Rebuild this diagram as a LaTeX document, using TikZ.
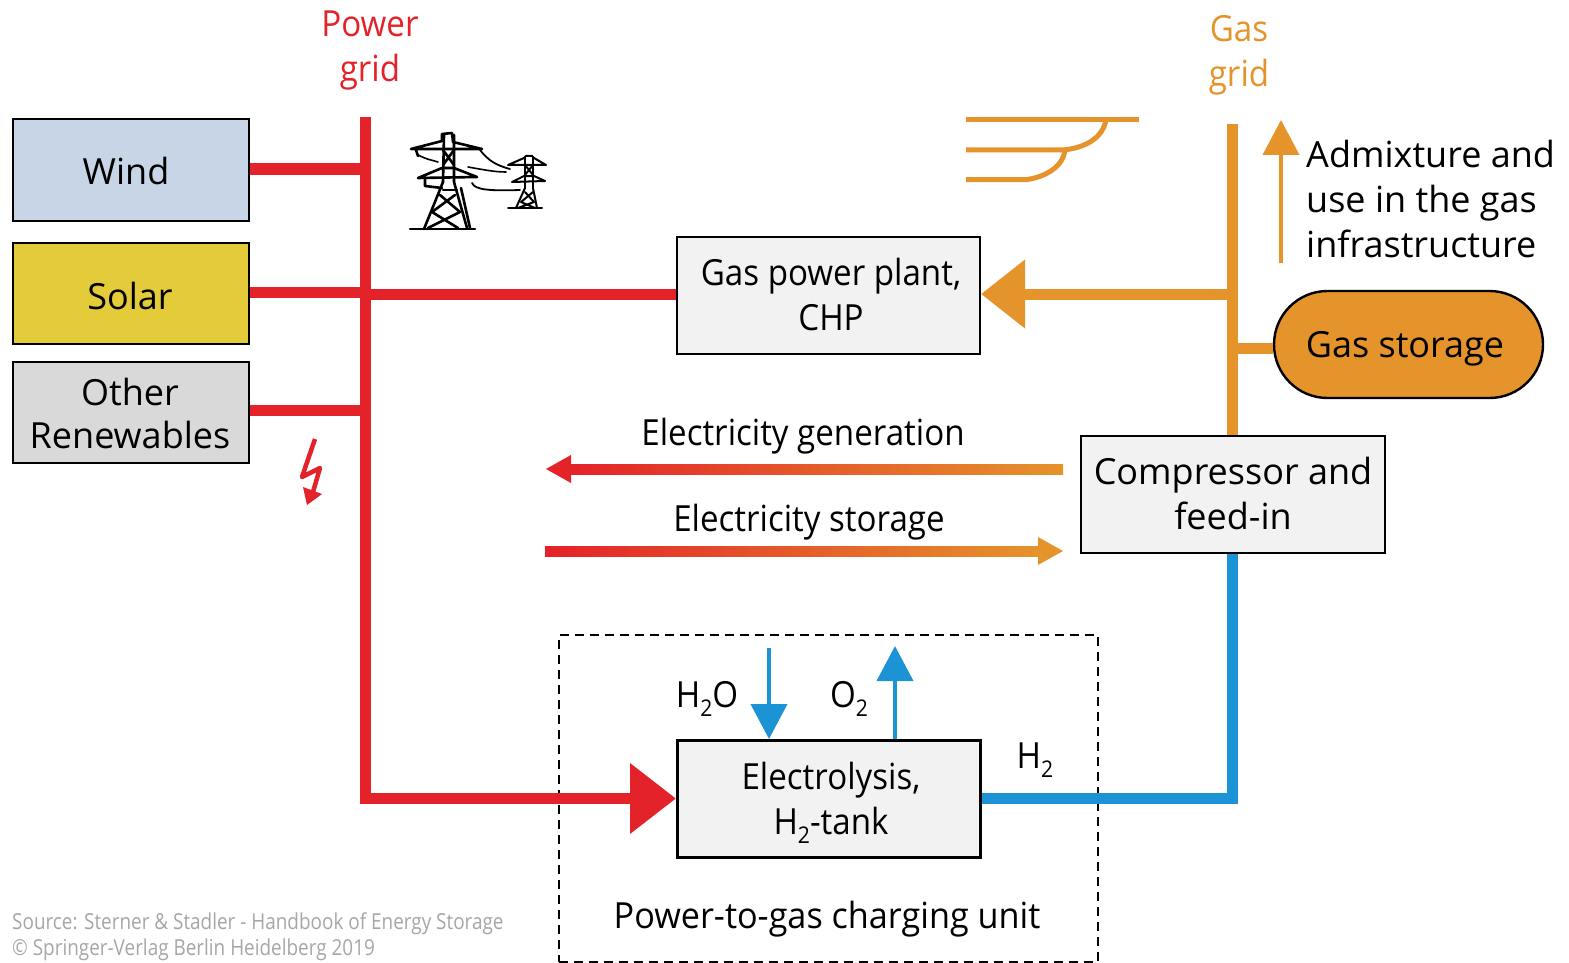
\documentclass[tikz,border=0pt]{standalone}
\usepackage{fontspec}
\setmainfont{Open Sans}
\newfontfamily\narrowf[FakeStretch=0.92]{Open Sans}
\newfontfamily\slimf[FakeStretch=0.86]{Open Sans}
\usetikzlibrary{arrows.meta,calc,shapes.misc}
\definecolor{gred}{HTML}{E42229}
\definecolor{gorange}{HTML}{E5932B}
\definecolor{gblue}{HTML}{1B93D5}
\definecolor{boxgrey}{HTML}{F2F2F2}
\definecolor{srcgrey}{HTML}{A6A6A6}
\definecolor{windc}{RGB}{200,213,230}
\definecolor{solarc}{RGB}{227,203,58}
\definecolor{otherc}{RGB}{217,217,217}
\newcommand{\lowtwo}{\raisebox{-9pt}{\fontsize{23}{23}\selectfont 2}}
\tikzset{
 box/.style={draw=black,line width=2pt,rectangle,inner sep=0pt,anchor=north west,fill=boxgrey},
 lab/.style={inner sep=0pt,align=center,font=\fontsize{36}{45}\selectfont},
 nlab/.style={inner sep=0pt,align=center,font=\narrowf\fontsize{36}{45}\selectfont},
 bus/.style={line width=11pt},
 tower/.style={line width=2.6pt,black,line cap=round,line join=round},
 thintower/.style={line width=2pt,black,line cap=round,line join=round},
 thin arrow/.style={line width=4pt},
 bighead/.style={-{Triangle[length=46pt,width=68pt]}},
 orangehead/.style={-{Triangle[length=44pt,width=66pt]}},
 smallhead/.style={-{Triangle[length=35pt,width=36pt]}},
}
\begin{document}
\begin{tikzpicture}[x=1pt,y=-1pt]
\useasboundingbox (0,0) rectangle (1569,963);
% boxes
\node[box,fill=windc,minimum width=236pt,minimum height=101pt] (wind) at (11.5,118.5) {};
\node[box,fill=solarc,minimum width=236pt,minimum height=101pt] (solar) at (11.5,241.5) {};
\node[box,fill=otherc,minimum width=236pt,minimum height=101pt] (other) at (11.5,361) {};
\node[box,minimum width=303pt,minimum height=117pt] (plant) at (676,235.5) {};
\node[box,minimum width=304pt,minimum height=117pt] (comp) at (1080,434.5) {};
\node[box,line width=2.6pt,minimum width=303pt,minimum height=117pt] (elec) at (676,739) {};
\node[draw=black,line width=2.4pt,fill=gorange,rounded rectangle,minimum width=269pt,minimum height=107pt,inner sep=0pt] (store) at (1408.5,344.5) {};
\node[draw=black,line width=1.6pt,dash pattern=on 9pt off 6pt,rectangle,minimum width=539pt,minimum height=327pt,inner sep=0pt,anchor=north west] (unit) at (558,634) {};
% texts
\node[lab] (twind) at (126,171) {Wind};
\node[lab] (tsolar) at (130,296) {Solar};
\node[lab] (tother) at (130,413) {Other\\[-2pt]Renewables};
\node[nlab] (tplant) at (831,294) {Gas power plant,\\CHP};
\node[lab] (tcomp) at (1233,493) {Compressor and\\feed-in};
\node[nlab] (telec) at (831,803) {Electrolysis,\\H\lowtwo-tank};
\node[lab] (tstore) at (1405,349) {Gas storage};
\node[nlab,text=gred] (tpower) at (370,50) {Power\\grid};
\node[nlab,text=gorange] (tgas) at (1239,55) {Gas\\grid};
\node[lab,align=left,anchor=north west] (tadm) at (1306,140) {Admixture and\\use in the gas\\infrastructure};
\node[nlab] (tgen) at (803,436) {Electricity generation};
\node[nlab] (tsto) at (809,522) {Electricity storage};
\node[nlab] (th2o) at (707,699) {H\lowtwo O};
\node[nlab] (to2) at (849,699) {O\lowtwo};
\node[nlab] (th2) at (1035,760) {H\lowtwo};
\node[inner sep=0pt,font=\fontsize{36}{45}\selectfont\addfontfeature{FakeStretch=0.95}] (tunit) at (827,919) {Power-to-gas charging unit};
\node[inner sep=0pt,anchor=west,align=left,text=srcgrey,font=\slimf\fontsize{22}{26}\selectfont] (tsrc) at (12,937) {Source: Sterner \& Stadler - Handbook of Energy Storage\\© Springer-Verlag Berlin Heidelberg 2019};
% coordinates
\coordinate (rtop) at (365,117);
\coordinate (rcorner) at (365,798.5);
\coordinate (wj) at (365,169);
\coordinate (sj) at (365,292);
\coordinate (oj) at (365,410);
\coordinate (otop) at (1232,124);
\coordinate (pj) at (1232,294);
\coordinate (gj) at (1232,348);
\coordinate (bc) at (1232,798);
% red
\draw[gred,bus] (rtop) -- (rcorner);
\draw[gred,bus] (wind.east |- wj) -- (wj);
\draw[gred,bus] (solar.east |- sj) -- (sj);
\draw[gred,bus] (other.east |- oj) -- (oj);
\draw[gred,bus] (sj |- 0,294) -- (plant.west |- 0,294);
\draw[gred,line width=11pt,bighead] ($(rcorner)+(-5.5,0)$) -- (elec.west |- rcorner);
% orange
\draw[gorange,bus] (otop) -- (comp.north -| otop);
\draw[gorange,line width=11pt,orangehead] (pj) -- (plant.east |- pj);
\draw[gorange,bus] (gj) -- (store.west |- gj);
\draw[gorange,thin arrow,smallhead] (1281,263) coordinate (aa) -- (1281,120) coordinate (ab);
% blue
\draw[gblue,bus,line join=miter] (comp.south -| bc) -- (bc) -- (elec.east |- bc);
\draw[gblue,thin arrow,smallhead] (769,648) coordinate (ha) -- (elec.north -| ha);
\draw[gblue,thin arrow,smallhead] (elec.north -| 895,0) -- (895,646) coordinate (oa);
% gradient arrows
\shade[left color=gred,right color=gorange] (571,464) rectangle (1063,474);
\fill[gred] (546,469) -- (571,455) -- (571,483) -- cycle;
\shade[left color=gred,right color=gorange] (545,546) rectangle (1040,556);
\fill[gorange] (1063,551) -- (1038,537) -- (1038,565) -- cycle;
% gas pipes
\draw[gorange,line width=5pt] (966,119.5) -- (1139,119.5);
\draw[gorange,line width=5pt] (966,150) -- (1063,150) .. controls (1085,148) and (1103,138) .. (1106,119.5);
\draw[gorange,line width=5pt] (966,179.5) -- (1027,179.5) .. controls (1045,177) and (1063,167) .. (1065,150);
% lightning
\draw[gred,line width=4.5pt,line join=round] (315,439) -- (302,477) -- (320,468) -- (313,492);
\fill[gred] (303,487) -- (322,494) -- (307,505) -- cycle;
% big tower
\begin{scope}[tower]
\draw (411,149) -- (442,141) -- (442,134) -- (452,133) -- (453,142) -- (482,149) -- cycle;
\draw (418,178) -- (442,168) -- (454,168) -- (477,177) -- cycle;
\draw (444,135) -- (443,182) (454,135) -- (454,182);
\draw (443,182) -- (424,229) (454,182) -- (467,228);
\draw (461,188) -- (470,228);
\draw (410,229) -- (475,229);
\draw (443,150) -- (454,165) (454,150) -- (443,165);
\draw (440,195) -- (460,212) -- (428,228) (455,195) -- (432,212) -- (458,228);
\draw (443,190) -- (457,190);
\draw (416,150) -- (418,156) (425,178) -- (425,186) -- (442,188);
\draw[line width=1.6pt] (418,155) .. controls (428,160) and (432,160) .. (438,162);
\draw[line width=1.8pt] (480,150) .. controls (488,160) and (495,165) .. (510,169);
\draw[line width=1.6pt] (468,167) .. controls (485,170) and (495,172) .. (506,172);
\draw[line width=1.8pt] (472,183) .. controls (475,190) and (490,191) .. (520,190);
\end{scope}
% small tower
\begin{scope}[thintower]
\draw (508,165) -- (524,158) -- (526,156) -- (532,156) -- (534,158) -- (546,165) -- cycle;
\draw (512,182) -- (524,176) -- (534,176) -- (545,181) -- cycle;
\draw (525,157) -- (525,188) (533,157) -- (533,188);
\draw (525,188) -- (516,208) (533,188) -- (537,208);
\draw (508,208) -- (542,208);
\draw (525,165) -- (533,175) (533,165) -- (525,175);
\draw (525,192) -- (534,202) -- (518,208) (533,192) -- (521,202) -- (535,208);
\end{scope}
\end{tikzpicture}
\end{document}
